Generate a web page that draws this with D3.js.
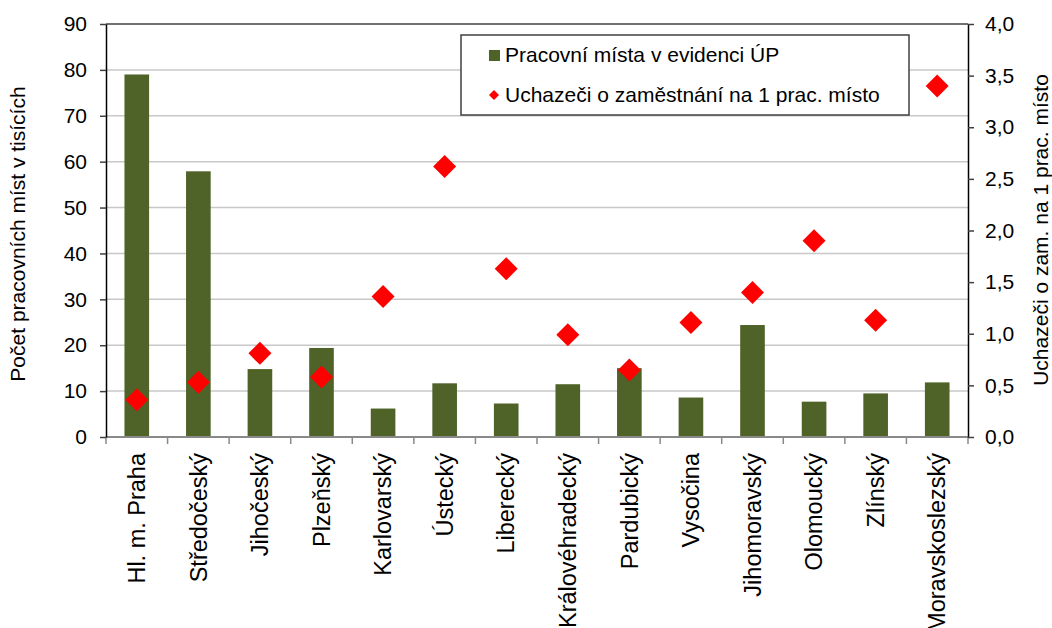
<!DOCTYPE html>
<html>
<head>
<meta charset="utf-8">
<script src="https://cdn.jsdelivr.net/npm/d3@7"></script>
<style>
  html, body { margin: 0; padding: 0; background: #fff; }
  svg { display: block; font-family: "Liberation Sans", Arial, sans-serif; }
</style>
</head>
<body>
<svg id="chart" width="1052" height="628"></svg>
<script>
const categories = ["Hl. m. Praha", "Středočeský", "Jihočeský", "Plzeňský", "Karlovarský", "Ústecký", "Liberecký", "Královéhradecký", "Pardubický", "Vysočina", "Jihomoravský", "Olomoucký", "Zlínský", "Moravskoslezský"];
const jobs = [79.0, 57.9, 14.8, 19.4, 6.2, 11.7, 7.3, 11.5, 15.0, 8.6, 24.4, 7.7, 9.5, 11.9];
const applicantsPerJob = [0.36, 0.53, 0.81, 0.58, 1.36, 2.62, 1.63, 0.99, 0.65, 1.11, 1.40, 1.90, 1.13, 3.40];
const leftTicks = [0, 10, 20, 30, 40, 50, 60, 70, 80, 90];
const rightTicks = [0, 0.5, 1, 1.5, 2, 2.5, 3, 3.5, 4];
const seriesNames = ["Pracovní místa v evidenci ÚP", "Uchazeči o zaměstnání na 1 prac. místo"];
const leftTitle = "Počet pracovních míst v tisících";
const rightTitle = "Uchazeči o zam. na 1 prac. místo";

const svg = d3.select("#chart");
const L = 106, R = 968, T = 24, B = 437;
const x = d3.scaleBand().domain(categories).range([L, R]).padding(0);
const y = d3.scaleLinear().domain([0, 90]).range([B, T]);
const y2 = d3.scaleLinear().domain([0, 4]).range([B, T]);
const barColor = "#4f6228";
const fs = 21;

// gridlines
svg.append("g").selectAll("line").data(leftTicks.filter(t => t > 0 && t < 90)).join("line")
  .attr("x1", L).attr("x2", R).attr("y1", d => y(d)).attr("y2", d => y(d))
  .attr("stroke", "#c8c8c8").attr("stroke-width", 1.5);
// top border
svg.append("line").attr("x1", L).attr("x2", R).attr("y1", y(90)).attr("y2", y(90))
  .attr("stroke", "#404040").attr("stroke-width", 1.5);

// bars
const bw = x.bandwidth() * 0.4;
svg.append("g").selectAll("rect").data(categories).join("rect")
  .attr("x", (d) => x(d) + (x.bandwidth() - bw) / 2)
  .attr("width", bw)
  .attr("y", (d, i) => y(jobs[i]))
  .attr("height", (d, i) => y(0) - y(jobs[i]))
  .attr("fill", barColor);

// bottom axis line and ticks
const boundaries = categories.map(c => x(c)).concat([R]);
svg.append("line").attr("x1", L).attr("x2", R).attr("y1", B).attr("y2", B)
  .attr("stroke", "#898989").attr("stroke-width", 2);
svg.append("g").selectAll("line").data(boundaries).join("line")
  .attr("x1", d => d).attr("x2", d => d).attr("y1", B).attr("y2", B + 7)
  .attr("stroke", "#898989").attr("stroke-width", 1.5);

// left axis
const gl = svg.append("g").attr("transform", `translate(${L},0)`)
  .call(d3.axisLeft(y).tickValues(leftTicks).tickSize(6).tickPadding(13).tickSizeOuter(0));
gl.select(".domain").attr("stroke", "#000").attr("stroke-width", 1.5);
gl.selectAll(".tick line").attr("stroke", "#404040").attr("stroke-width", 1.5);
gl.selectAll("text").attr("font-size", fs).attr("font-family", "Liberation Sans, Arial, sans-serif").attr("fill", "#000");

// right axis
const fmt = d => d3.format(".1f")(d).replace(".", ",");
const gr = svg.append("g").attr("transform", `translate(${R},0)`)
  .call(d3.axisRight(y2).tickValues(rightTicks).tickFormat(fmt).tickSize(6).tickPadding(11).tickSizeOuter(0));
gr.select(".domain").attr("stroke", "#000").attr("stroke-width", 1.5);
gr.selectAll(".tick line").attr("stroke", "#404040").attr("stroke-width", 1.5);
gr.selectAll("text").attr("font-size", fs).attr("font-family", "Liberation Sans, Arial, sans-serif").attr("fill", "#000");

// diamonds
const dsz = 11.5;
const diamond = `M0,${-dsz}L${dsz},0L0,${dsz}L${-dsz},0Z`;
svg.append("g").selectAll("path").data(categories).join("path")
  .attr("d", diamond)
  .attr("transform", (d, i) => `translate(${x(d) + x.bandwidth() / 2},${y2(applicantsPerJob[i])})`)
  .attr("fill", "#ff0000");

// category labels
svg.append("g").selectAll("text").data(categories).join("text")
  .attr("transform", d => `translate(${x(d) + x.bandwidth() / 2},453) rotate(-90)`)
  .attr("dy", "0.35em")
  .attr("text-anchor", "end")
  .attr("font-size", 23.5)
  .text(d => d);

// axis titles
svg.append("text").attr("transform", "translate(25,234) rotate(-90)")
  .attr("text-anchor", "middle").attr("font-size", fs).text(leftTitle);
svg.append("text").attr("transform", "translate(1048,230) rotate(-90)")
  .attr("text-anchor", "middle").attr("font-size", fs).text(rightTitle);

// legend
const lg = svg.append("g");
lg.append("rect").attr("x", 461).attr("y", 35).attr("width", 448).attr("height", 80)
  .attr("fill", "#fff").attr("stroke", "#404040").attr("stroke-width", 1.5);
lg.append("rect").attr("x", 489).attr("y", 50).attr("width", 11).attr("height", 11).attr("fill", barColor);
lg.append("path").attr("d", "M0,-5L5,0L0,5L-5,0Z").attr("transform", "translate(494,95)").attr("fill", "#ff0000");
lg.append("text").attr("x", 505).attr("y", 62).attr("font-size", fs).text(seriesNames[0]);
lg.append("text").attr("x", 505).attr("y", 102).attr("font-size", fs).text(seriesNames[1]);
</script>
</body>
</html>
